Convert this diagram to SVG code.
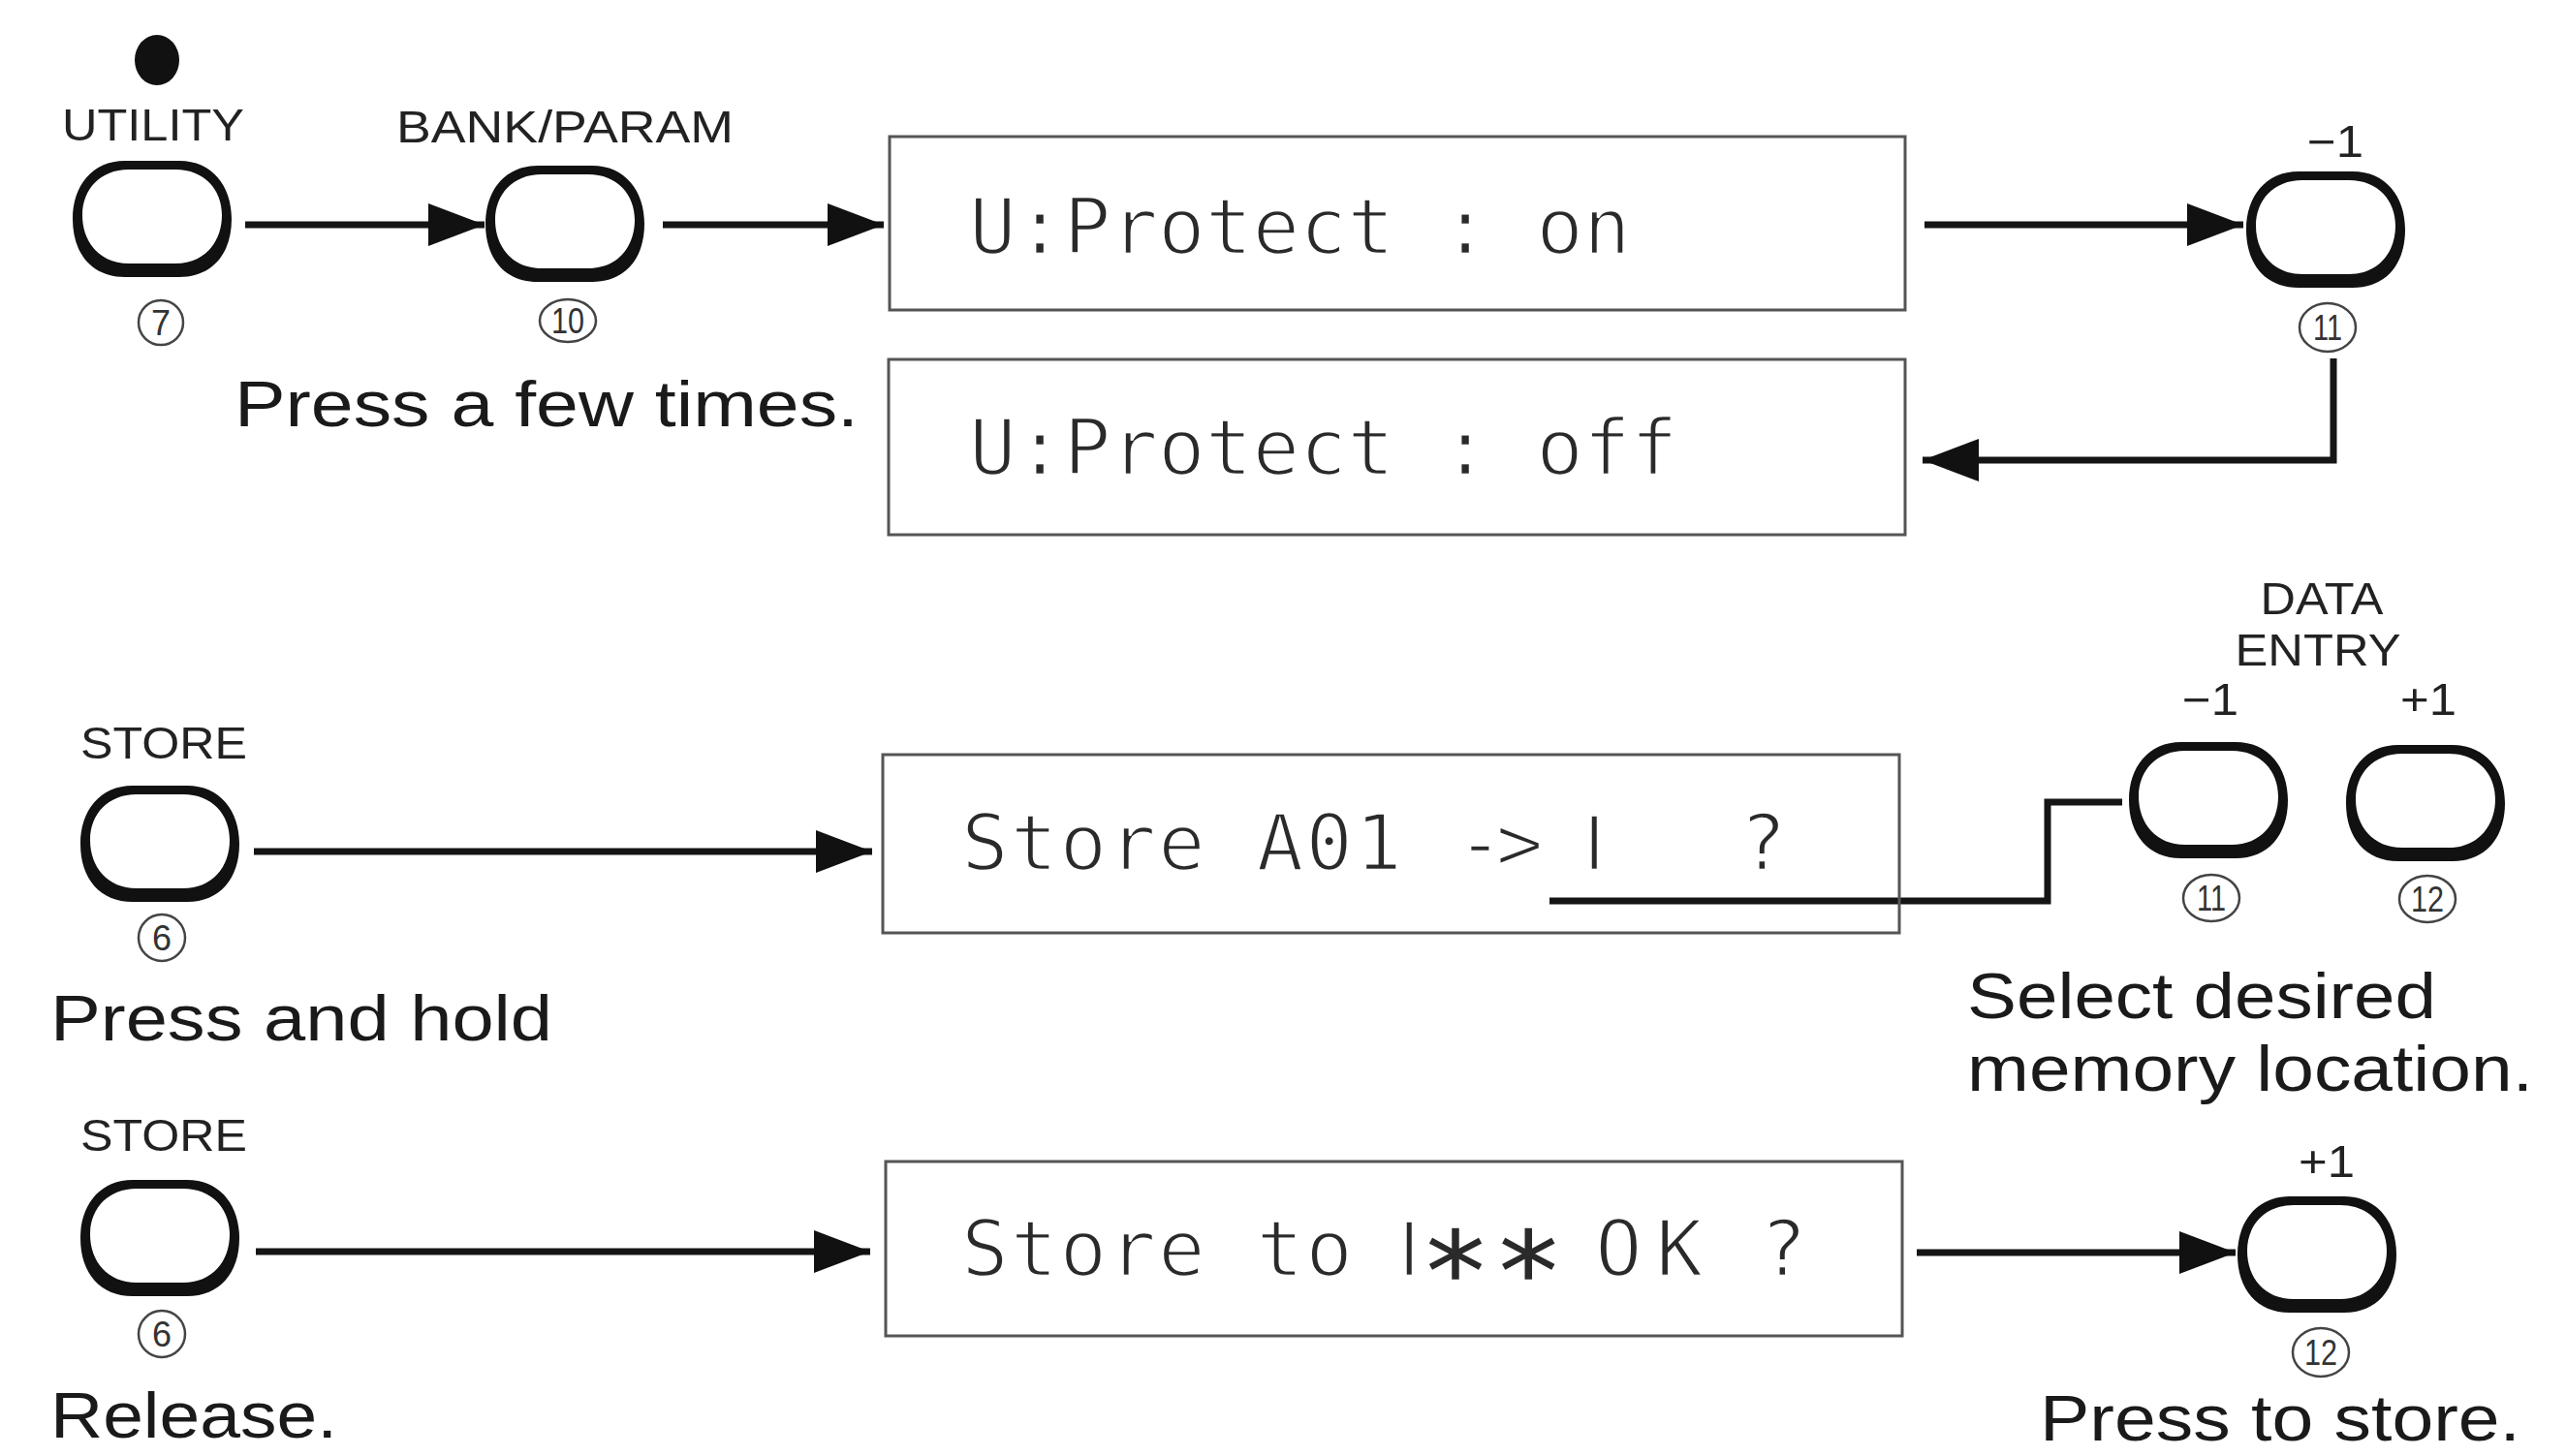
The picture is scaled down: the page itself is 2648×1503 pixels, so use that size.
<svg xmlns="http://www.w3.org/2000/svg" xmlns:xlink="http://www.w3.org/1999/xlink" width="2648" height="1503" viewBox="0 0 2648 1503">
<style>
.lbl{font-family:"Liberation Sans",Arial,sans-serif;font-size:46px;fill:#222;text-anchor:middle}
.big{font-family:"Liberation Sans",Arial,sans-serif;font-size:66px;fill:#1a1a1a}
.num{font-family:"Liberation Sans",Arial,sans-serif;font-size:36px;fill:#333;text-anchor:middle}
.ring{fill:none;stroke:#444;stroke-width:2.5}
.lcd{fill:none;stroke:#555;stroke-width:3}
.lcdt{font-family:"DejaVu Sans Mono",monospace;font-size:81px;fill:#2a2a2a;stroke:#fff;stroke-width:2.5}
.con{fill:none;stroke:#151515;stroke-width:7}
</style>
<defs>
<marker id="ah" markerUnits="userSpaceOnUse" markerWidth="60" markerHeight="46" refX="58" refY="22" orient="auto">
<path d="M0,0 L58,22 L0,44 Z" fill="#111"/>
</marker>
<g id="btn">
<path fill="#111" fill-rule="evenodd" d="M-28,-60 H28 C62,-60 82,-34 82,0 C82,36 62,60 28,60 H-28 C-62,60 -82,36 -82,0 C-82,-34 -62,-60 -28,-60 Z M-24,-51 H24 C54,-51 72,-30 72,-4 C72,24 54,46 24,46 H-24 C-54,46 -72,24 -72,-4 C-72,-30 -54,-51 -24,-51 Z"/>
</g>
</defs>
<rect width="2648" height="1503" fill="#fff"/>

<g id="connectors">
<path class="con" d="M253,232 H500" marker-end="url(#ah)"/>
<path class="con" d="M684,232 H912" marker-end="url(#ah)"/>
<path class="con" d="M1986,232 H2315" marker-end="url(#ah)"/>
<path class="con" d="M2408,370 V475 H1984" stroke-width="9" marker-end="url(#ah)"/>
<path class="con" d="M262,879 H900" marker-end="url(#ah)"/>
<path class="con" d="M1599,930 H2113 V828 H2190"/>
<path class="con" d="M264,1292 H898" marker-end="url(#ah)"/>
<path class="con" d="M1978,1293 H2307" marker-end="url(#ah)"/>
</g>

<g id="utility">
<ellipse cx="162" cy="62" rx="23" ry="26" fill="#111"/>
<text class="lbl" x="158" y="145" textLength="188" lengthAdjust="spacingAndGlyphs">UTILITY</text>
<use xlink:href="#btn" x="157" y="226"/>
<ellipse class="ring" cx="166" cy="333" rx="23" ry="23"/>
<text class="num" x="166" y="346">7</text>
</g>

<g id="bank-param">
<text class="lbl" x="583" y="147" textLength="348" lengthAdjust="spacingAndGlyphs">BANK/PARAM</text>
<use xlink:href="#btn" x="583" y="231"/>
<ellipse class="ring" cx="586" cy="331" rx="29" ry="22"/>
<text class="num" x="586" y="344" textLength="34" lengthAdjust="spacingAndGlyphs">10</text>
<text class="big" x="242" y="440" font-size="64" textLength="644" lengthAdjust="spacingAndGlyphs">Press a few times.</text>
</g>

<g id="lcd-on">
<rect class="lcd" x="918" y="141" width="1048" height="179"/>
<text class="lcdt" x="1000" y="262" xml:space="preserve">U:Protect : on</text>
</g>

<g id="lcd-off">
<rect class="lcd" x="917" y="371" width="1049" height="181"/>
<text class="lcdt" x="1000" y="490" xml:space="preserve">U:Protect : off</text>
</g>

<g id="minus1-a">
<text class="lbl" x="2410" y="162" font-size="44" textLength="58" lengthAdjust="spacingAndGlyphs">−1</text>
<use xlink:href="#btn" x="2400" y="237"/>
<ellipse class="ring" cx="2402" cy="338" rx="29" ry="25"/>
<text class="num" x="2402" y="351" textLength="30" lengthAdjust="spacingAndGlyphs">11</text>
</g>

<g id="store-hold">
<text class="lbl" x="169" y="783" textLength="172" lengthAdjust="spacingAndGlyphs">STORE</text>
<use xlink:href="#btn" x="165" y="871"/>
<ellipse class="ring" cx="167" cy="968" rx="24" ry="24"/>
<text class="num" x="167" y="981">6</text>
<text class="big" x="52" y="1074" textLength="518" lengthAdjust="spacingAndGlyphs">Press and hold</text>
</g>

<g id="lcd-store">
<rect class="lcd" x="911" y="779" width="1049" height="184"/>
<text class="lcdt" y="898" letter-spacing="2" xml:space="preserve"><tspan x="992">Store A01</tspan><tspan x="1503" letter-spacing="-8">-&gt;</tspan><tspan x="1634" font-family="Liberation Sans, sans-serif">I</tspan><tspan x="1795">?</tspan></text>
</g>

<g id="data-entry">
<text class="lbl" x="2396" y="634" textLength="127" lengthAdjust="spacingAndGlyphs">DATA</text>
<text class="lbl" x="2392" y="687" textLength="171" lengthAdjust="spacingAndGlyphs">ENTRY</text>
<text class="lbl" x="2281" y="738" font-size="44" textLength="58" lengthAdjust="spacingAndGlyphs">−1</text>
<text class="lbl" x="2506" y="738" font-size="44" textLength="58" lengthAdjust="spacingAndGlyphs">+1</text>
<use xlink:href="#btn" x="2279" y="826"/>
<use xlink:href="#btn" x="2503" y="829"/>
<ellipse class="ring" cx="2282" cy="927" rx="29" ry="24"/>
<text class="num" x="2282" y="940" textLength="30" lengthAdjust="spacingAndGlyphs">11</text>
<ellipse class="ring" cx="2505" cy="928" rx="29" ry="24"/>
<text class="num" x="2505" y="941" textLength="34" lengthAdjust="spacingAndGlyphs">12</text>
<text class="big" x="2030" y="1051" font-size="68" textLength="484" lengthAdjust="spacingAndGlyphs">Select desired</text>
<text class="big" x="2030" y="1126" font-size="68" textLength="584" lengthAdjust="spacingAndGlyphs">memory location.</text>
</g>

<g id="store-release">
<text class="lbl" x="169" y="1188" textLength="172" lengthAdjust="spacingAndGlyphs">STORE</text>
<use xlink:href="#btn" x="165" y="1278"/>
<ellipse class="ring" cx="167" cy="1377" rx="24" ry="24"/>
<text class="num" x="167" y="1390">6</text>
<text class="big" x="52" y="1484" textLength="296" lengthAdjust="spacingAndGlyphs">Release.</text>
</g>

<g id="lcd-confirm">
<rect class="lcd" x="914" y="1199" width="1049" height="180"/>
<text class="lcdt" y="1317" letter-spacing="2" xml:space="preserve"><tspan x="992">Store to</tspan><tspan x="1443" font-family="Liberation Sans, sans-serif">I</tspan><tspan x="1466" dy="38" font-size="120" font-weight="bold" letter-spacing="3">**</tspan><tspan x="1646" dy="-38" letter-spacing="14">OK</tspan><tspan x="1816">?</tspan></text>
</g>

<g id="plus1-store">
<text class="lbl" x="2401" y="1215" font-size="44" textLength="58" lengthAdjust="spacingAndGlyphs">+1</text>
<use xlink:href="#btn" x="2391" y="1295"/>
<ellipse class="ring" cx="2395" cy="1396" rx="29" ry="25"/>
<text class="num" x="2395" y="1409" textLength="34" lengthAdjust="spacingAndGlyphs">12</text>
<text class="big" x="2105" y="1487" textLength="496" lengthAdjust="spacingAndGlyphs">Press to store.</text>
</g>
</svg>
